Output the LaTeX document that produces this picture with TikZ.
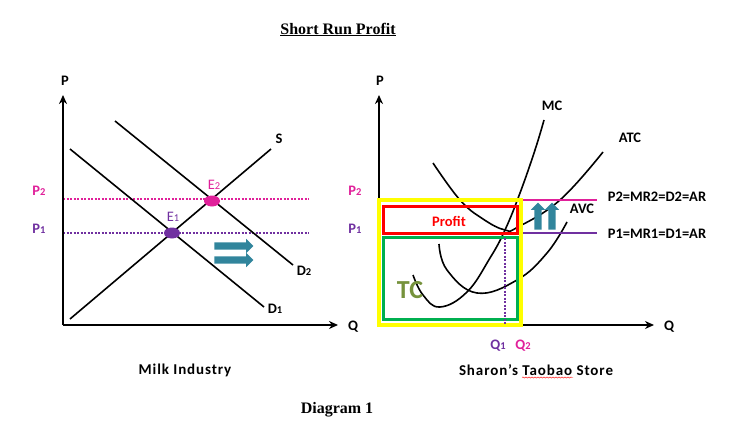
\documentclass[tikz,border=0pt]{standalone}
\usepackage{fontspec}
\setmainfont{Carlito}
\newfontfamily\titlefont{Liberation Serif}
\newfontfamily\capfont[LetterSpace=6]{Carlito}
\usetikzlibrary{calc,positioning,arrows.meta,shapes.geometric,shapes.arrows,decorations.pathmorphing}
\definecolor{pinkline}{HTML}{E0209A}
\definecolor{purpleline}{HTML}{7030A0}
\definecolor{tealarrow}{HTML}{31859C}
\definecolor{boxyellow}{HTML}{FFFF00}
\definecolor{boxgreen}{HTML}{00B050}
\definecolor{boxred}{HTML}{FF0000}
\definecolor{tcolive}{HTML}{76923C}
\newcommand{\lowdig}[1]{{\fontsize{10.5}{12}\selectfont #1}}
\begin{document}
\begin{tikzpicture}
        [x=1pt,y=-1pt,
        lbl/.style={font=\bfseries\fontsize{14.5}{16}\selectfont, inner sep=0pt},
        caption/.style={font=\capfont\bfseries\fontsize{15}{17}\selectfont, inner sep=0pt},
        ttl/.style={font=\titlefont\bfseries\fontsize{16}{18}\selectfont, inner sep=0pt},
        curve/.style={line width=1.6pt},
        axis/.style={-{Stealth[length=9pt,width=8pt]},line width=1.8pt},
        dots/.style={line width=1.5pt,dash pattern=on 2pt off 1.5pt},
        movearrow/.style={single arrow, fill=tealarrow, inner xsep=0pt, inner ysep=3.5pt,
          single arrow head extend=3.5pt, single arrow tip angle=90}]
        \useasboundingbox (0,0) rectangle (731,436);
        %\draw[help lines] (0,0) grid (731,436);
        \node[ttl] (title) at (338,29.5) {\underline{Short Run Profit}};
        \node[ttl] (diagram) at (337,410) {Diagram 1};
        % left panel
        \coordinate (o1) at (63,325);
        \node[lbl] (p1axis) at (65,81) {P};
        \node[lbl] (q1axis) at (353,327) {Q};
        \coordinate (p1top) at (63,95);
        \coordinate (q1end) at (338,325);
        \coordinate (p2a) at (63,199);
        \coordinate (p2b) at (309,199);
        \coordinate (p1a) at (63,233);
        \coordinate (p1b) at (309,233);
        \draw[pinkline,dots] (p2a) -- (p2b);
        \draw[purpleline,dots] (p1a) -- (p1b);
        \draw[axis] (o1) -- (p1top);
        \draw[axis] (o1) -- (q1end);
        \coordinate (s0) at (70,319);
        \coordinate (d1s) at (70,149);
        \coordinate (d2s) at (115,121);
        \node[lbl] (s) at (279,139) {S};
        \node[lbl] (d1) at (275,309) {D\lowdig{1}};
        \node[lbl] (d2) at (304,271) {D\lowdig{2}};
        \draw[curve] (s0) -- (271,149);
        \draw[curve] (d1s) -- (264,307);
        \draw[curve] (d2s) -- (293,265);
        \node[ellipse,fill=pinkline,minimum width=16pt,minimum height=11pt,inner sep=0pt] (e2) at (212,201) {};
        \node[ellipse,fill=purpleline,minimum width=16pt,minimum height=11pt,inner sep=0pt] (e1) at (172,233) {};
        \node[lbl,text=pinkline,font=\fontsize{14.5}{16}\selectfont] (e2l) at (214,185) {E\lowdig{2}};
        \node[lbl,text=purpleline,font=\fontsize{14.5}{16}\selectfont] (e1l) at (173,217) {E\lowdig{1}};
        \node[lbl,text=pinkline] (p2l) at (39,191) {P\lowdig{2}};
        \node[lbl,text=purpleline] (p1l) at (39,229) {P\lowdig{1}};
        \node[movearrow,minimum height=39pt] (sh1) at (232,246) {};
        \node[movearrow,minimum height=39pt] (sh2) at (232,260) {};
        \node[caption] (milk) at (185,370) {Milk Industry};
        % right panel
        \coordinate (o2) at (379,325);
        \node[lbl] (p2axis) at (380,81) {P};
        \node[lbl] (q2axis) at (669,327) {Q};
        \coordinate (p2top) at (379,95);
        \coordinate (q2end) at (654,325);
        \draw[axis] (o2) -- (p2top);
        \draw[axis] (o2) -- (q2end);
        \node[lbl,text=pinkline] (p2r) at (355,191) {P\lowdig{2}};
        \node[lbl,text=purpleline] (p1r) at (355,229) {P\lowdig{1}};
        \draw[curve] plot[smooth,tension=.7] coordinates {(413,275) (423,295) (440,307) (467,292) (490,258) (505,230) (520,193) (535,150) (544,120)};
        \draw[curve] plot[smooth,tension=.7] coordinates {(433,163) (460,200) (483,219) (505,230) (518,227) (560,200) (603,152)};
        \draw[curve] plot[smooth,tension=.7] coordinates {(439,244) (447,270) (477,293) (517,280) (547,253) (567,222)};
        \coordinate (mr2a) at (521,200);
        \coordinate (mr2b) at (597,200);
        \coordinate (mr1a) at (521,233);
        \coordinate (mr1b) at (597,233);
        \draw[pinkline,line width=1.2pt] (mr2a) -- (mr2b);
        \draw[purpleline,line width=1.2pt] (mr1a) -- (mr1b);
        \draw[boxyellow,line width=4pt] (379,200) rectangle (521,325);
        \draw[boxgreen,line width=3pt] (383,237) rectangle (517,319);
        \draw[boxred,line width=3pt] (383,206) rectangle (517,233);
        \draw[purpleline,dots] (505,238) -- (505,325);
        \node[movearrow,rotate=90,minimum height=27pt] (up1) at (538,218) {};
        \node[movearrow,rotate=90,minimum height=27pt] (up2) at (552,218) {};
        \node[lbl,text=boxred] (profit) at (449,221) {Profit};
        \node[text=tcolive,inner sep=0pt,font=\bfseries\fontsize{26}{28}\selectfont] (tc) at (410,290) {TC};
        \node[lbl] (mc) at (552,106) {MC};
        \node[lbl] (atc) at (630,138) {ATC};
        \node[lbl] (avc) at (582,209) {AVC};
        \node[lbl] (mrtwo) at (657,197) {P2=MR2=D2=AR};
        \node[lbl] (mrone) at (657,234) {P1=MR1=D1=AR};
        \node[lbl,text=purpleline] (q1l) at (498,346) {Q\lowdig{1}};
        \node[lbl,text=pinkline] (q2l) at (523,346) {Q\lowdig{2}};
        \node[caption] (store) at (536,370) {Sharon’s Taobao Store};
        \draw[red,decorate,decoration={snake,amplitude=.6pt,segment length=3pt}] (522,377.5) -- (573,377.5);
      \end{tikzpicture}
\end{document}
